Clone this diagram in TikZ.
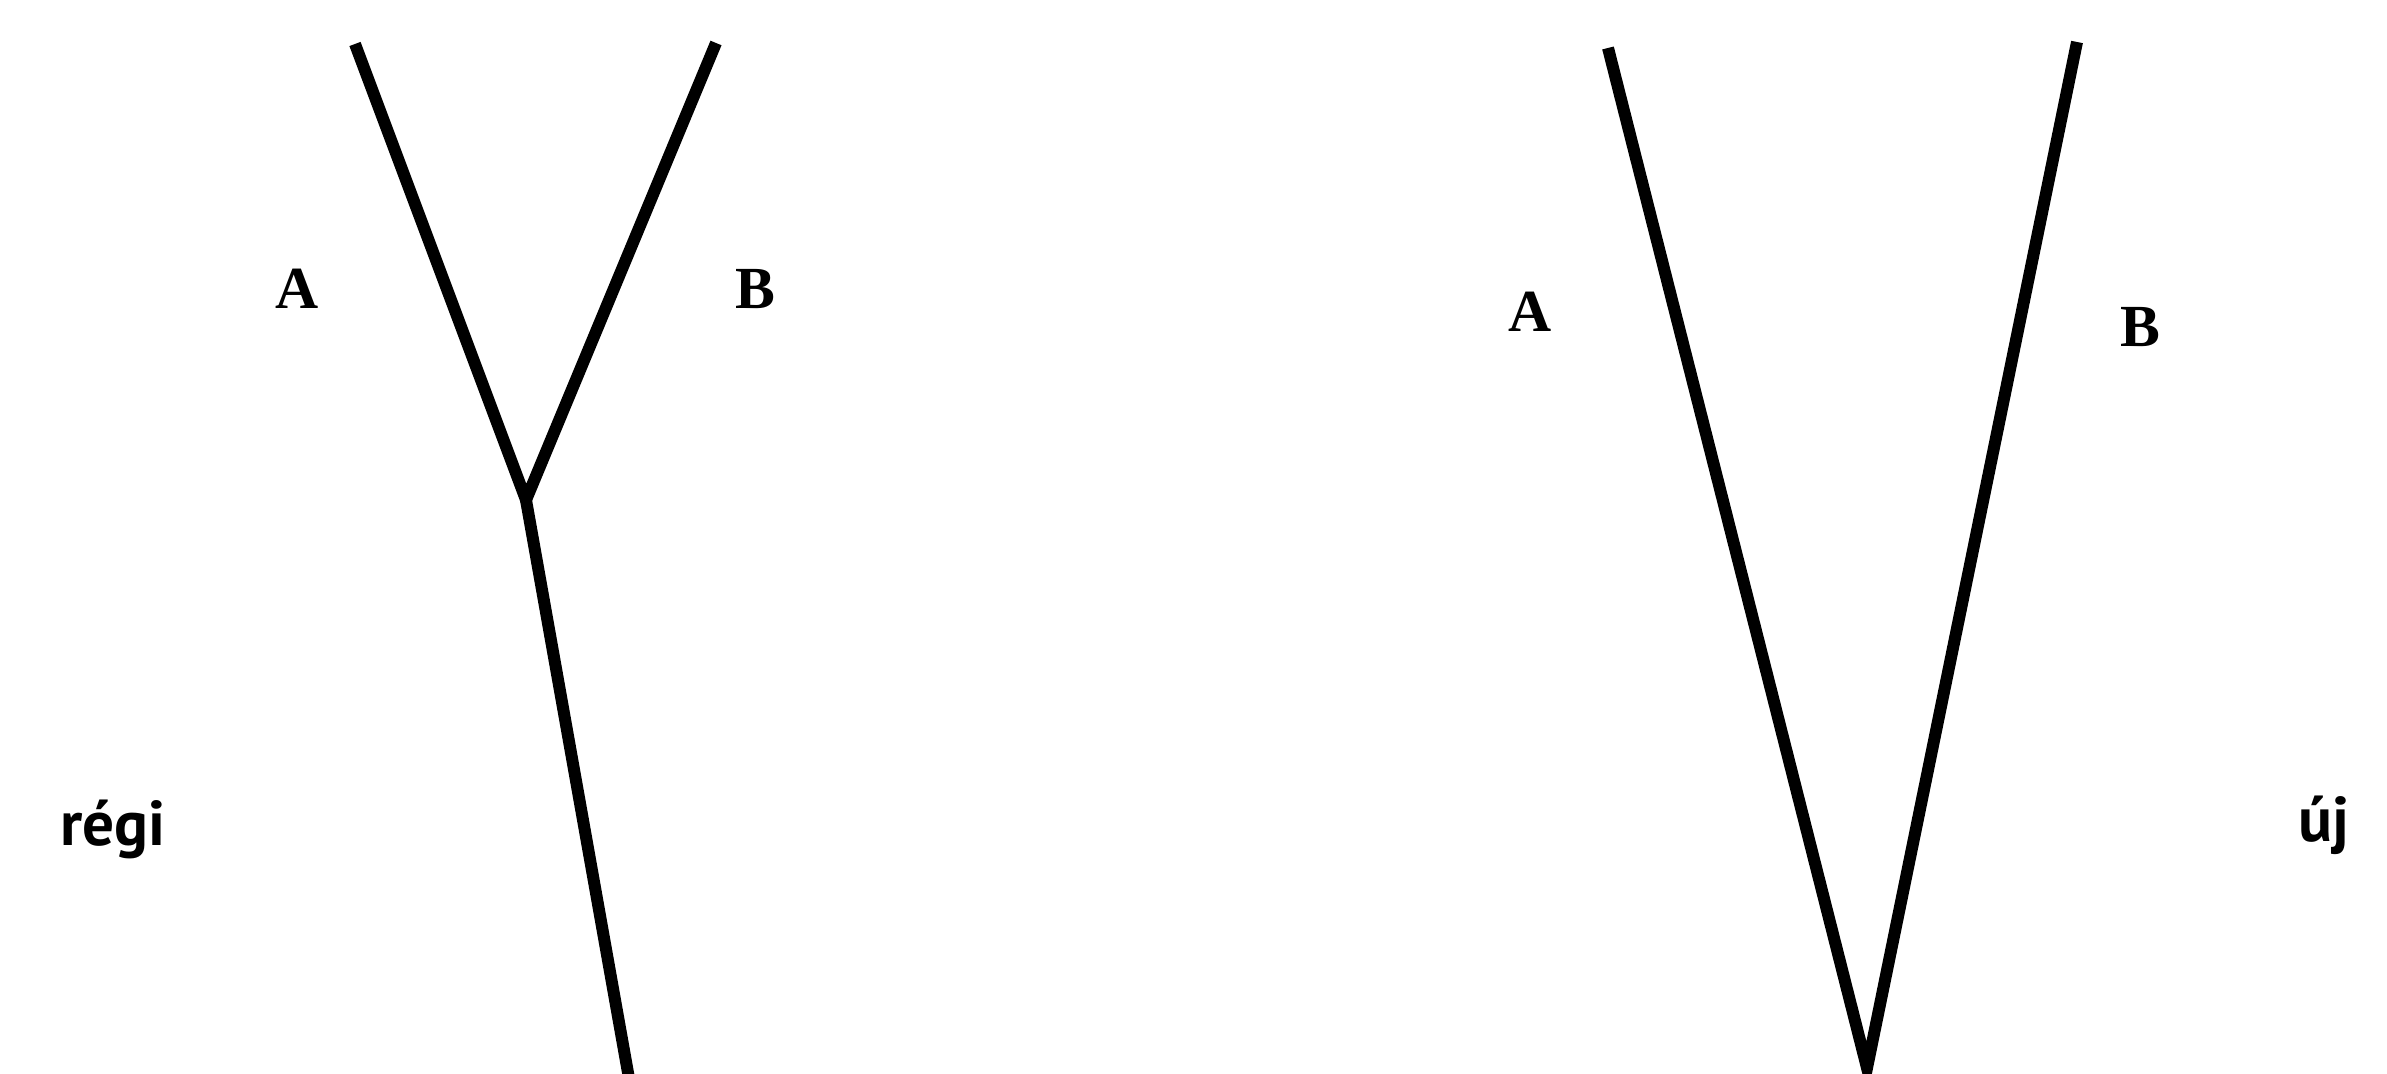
\documentclass[tikz,border=0pt]{standalone}
\usepackage{fontspec}
\setmainfont{Liberation Serif}
\newfontfamily\wordfont{PT Sans}
\usetikzlibrary{positioning}
\tikzset{
  branch/.style={line width=3.4pt,line join=miter,line cap=butt},
  letter/.style={font=\bfseries\fontsize{17}{20}\selectfont,inner sep=0pt},
  word/.style={font=\wordfont\bfseries\fontsize{18}{22}\selectfont,inner sep=0pt}
}

\begin{document}
\begin{tikzpicture}
        \useasboundingbox (0,0) rectangle (23.87,10.74);
        % old tree
        \coordinate (oldA) at (3.55,10.30);
        \coordinate (oldB) at (7.16,10.31);
        \coordinate (oldfork) at (5.26,5.74);
        \coordinate (oldroot) at (6.30,-0.1);
        \draw[branch] (oldA)--(oldfork)--(oldB);
        \draw[branch] (oldfork)--(oldroot);
        \node[letter] (oldlabelA) at (2.97,7.85) {A};
        \node[letter] (oldlabelB) at (7.55,7.85) {B};
        \node[word,anchor=base west] (old) at (0.60,2.28) {régi};
        % new tree
        \coordinate (newA) at (16.08,10.26);
        \coordinate (newB) at (20.77,10.32);
        \coordinate (newroot) at (18.67,0.06);
        \draw[branch] (newA)--(newroot)--(newB);
        \node[letter] (newlabelA) at (15.30,7.62) {A};
        \node[letter] (newlabelB) at (21.40,7.47) {B};
        \node[word,anchor=base west] (new) at (22.98,2.32) {új};
      \end{tikzpicture}
\end{document}
